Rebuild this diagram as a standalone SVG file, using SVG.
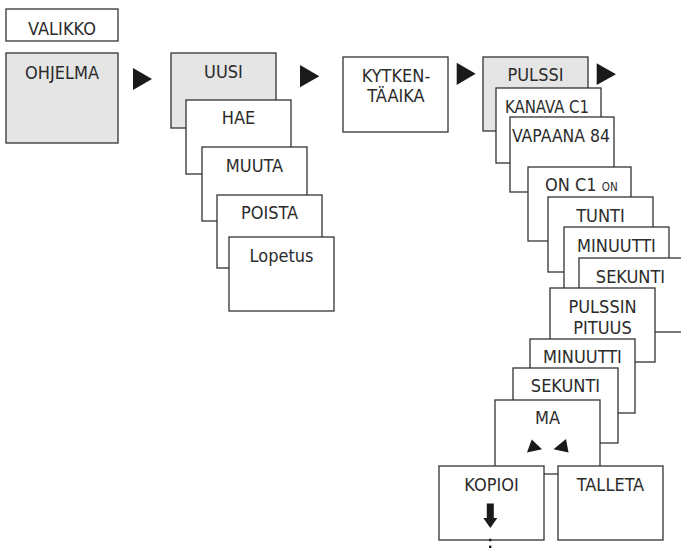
<svg xmlns="http://www.w3.org/2000/svg" width="681" height="551" viewBox="0 0 681 551">
<style>
.b{fill:#fff;stroke:#333;stroke-width:1.3}
.g{fill:#e5e5e6;stroke:#333;stroke-width:1.3}
text{font-family:"DejaVu Sans Condensed","DejaVu Sans",sans-serif;font-stretch:condensed;font-size:18px;fill:#2b2b2b;text-anchor:middle}
.sm{font-size:11.5px}
.tri{fill:#1a1a1a}
</style>
<rect width="681" height="551" fill="#fff"/>
<g id="valikko"><rect class="b" x="6" y="9" width="112" height="32"/><text x="62" y="35">VALIKKO</text></g>
<g id="ohjelma"><rect class="g" x="6" y="53" width="112" height="90"/><text x="62" y="78.5">OHJELMA</text></g>
<g id="uusi"><rect class="g" x="171" y="53" width="105" height="75"/><text x="223.5" y="78">UUSI</text></g>
<g id="hae"><rect class="b" x="186" y="100" width="105" height="74"/><text x="238.5" y="124">HAE</text></g>
<g id="muuta"><rect class="b" x="202" y="147" width="105" height="74"/><text x="254.5" y="172">MUUTA</text></g>
<g id="poista"><rect class="b" x="217" y="195" width="105" height="73"/><text x="269.5" y="219">POISTA</text></g>
<g id="lopetus"><rect class="b" x="229" y="237" width="105" height="74"/><text x="281.5" y="262">Lopetus</text></g>
<g id="kytkentaaika"><rect class="b" x="343" y="57" width="105" height="75"/><text x="396" y="81.5">KYTKEN-</text><text x="396" y="102">TÄAIKA</text></g>
<g id="pulssi"><rect class="g" x="483" y="57" width="105" height="74"/><text x="535.5" y="80.5">PULSSI</text></g>
<g id="kanava"><rect class="b" x="496" y="88" width="105" height="75"/><text x="547" y="113" textLength="84" lengthAdjust="spacingAndGlyphs">KANAVA C1</text></g>
<g id="vapaana"><rect class="b" x="510" y="117" width="104" height="75"/><text x="561" y="142" textLength="98" lengthAdjust="spacingAndGlyphs">VAPAANA 84</text></g>
<g id="onc1"><rect class="b" x="528" y="167" width="103" height="74"/><text x="545" y="190.5" style="text-anchor:start">ON C1 <tspan class="sm">ON</tspan></text></g>
<g id="tunti"><rect class="b" x="548" y="197" width="105" height="75"/><text x="600.5" y="222">TUNTI</text></g>
<g id="minuutti1"><rect class="b" x="564" y="227" width="105" height="75"/><text x="616.5" y="251.5">MINUUTTI</text></g>
<g id="sekunti1"><rect class="b" x="579" y="258" width="105" height="74"/><text x="630.5" y="282.5">SEKUNTI</text></g>
<g id="pulssinpituus"><rect class="b" x="550" y="288" width="105" height="74"/><text x="602.5" y="312.5">PULSSIN</text><text x="602.5" y="334">PITUUS</text></g>
<g id="minuutti2"><rect class="b" x="530" y="339" width="105" height="74"/><text x="582.5" y="362.5">MINUUTTI</text></g>
<g id="sekunti2"><rect class="b" x="513" y="368" width="105" height="75"/><text x="565.5" y="391.5">SEKUNTI</text></g>
<g id="ma"><rect class="b" x="495" y="400" width="105" height="74"/><text x="547.5" y="424">MA</text>
<polygon class="tri" points="531.7,439.5 527,452.5 542,449.3"/><polygon class="tri" points="553.5,449.3 566,439 568.5,452.5"/></g>
<g id="kopioi"><rect class="b" x="439" y="466" width="105" height="74"/><text x="491.5" y="490.5">KOPIOI</text></g>
<g id="talleta"><rect class="b" x="558" y="466" width="105" height="74"/><text x="610.5" y="490.5">TALLETA</text></g>
<g id="connectors">
<polygon class="tri" points="133,68 133,90 152,79"/>
<polygon class="tri" points="300,65 300,87.3 319.3,76.2"/>
<polygon class="tri" points="456.7,62.7 456.7,85 475.7,73.8"/>
<polygon class="tri" points="596.7,63.3 596.7,85 616,74.2"/>
<polygon class="tri" points="486.8,503.5 493.8,503.5 493.8,518 497.3,518 490.3,528 483.3,518 486.8,518"/>
<rect class="tri" x="489" y="538.8" width="2.4" height="2.4"/>
<rect class="tri" x="489" y="545.6" width="2.4" height="2.4"/>
</g>
</svg>
